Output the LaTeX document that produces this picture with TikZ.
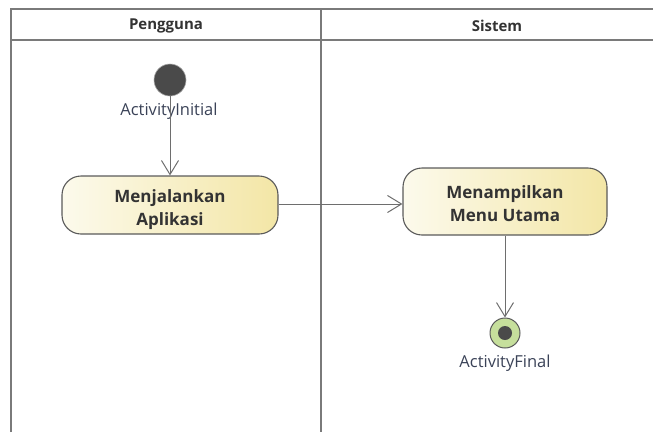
\documentclass[tikz,border=0pt]{standalone}
\usepackage{fontspec}
\setmainfont{Open Sans}
\usetikzlibrary{arrows.meta,shapes.geometric}
\definecolor{framegray}{HTML}{7A7A7A}
\definecolor{linegray}{HTML}{6E6E6E}
\definecolor{actborder}{HTML}{5A5A5A}
\definecolor{actleft}{HTML}{FCFAEC}
\definecolor{actright}{HTML}{F3E6A6}
\definecolor{initfill}{HTML}{4A4A4A}
\definecolor{finalfill}{HTML}{C6DF9C}
\definecolor{labelcol}{HTML}{3A4257}
\begin{document}
\begin{tikzpicture}[x=1pt,y=-1pt,
  lanetitle/.style={font=\bfseries\fontsize{15}{18}\selectfont, text=black!80},
  actbox/.style={draw=actborder, line width=1.1pt, rounded corners=19pt,
    left color=actleft, right color=actright, inner sep=0pt},
  acttext/.style={align=center, font=\bfseries\fontsize{17}{23}\selectfont, text=black!80},
  nodelabel/.style={font=\fontsize{16.5}{18}\selectfont, text=labelcol, inner sep=0pt},
  flow/.style={draw=linegray, line width=1pt, -{Straight Barb[length=14pt,width=17pt]}},
  frameline/.style={draw=framegray, line width=2pt}]
\useasboundingbox (0,0) rectangle (653,432);
% swimlane frame
\draw[frameline] (11,432) -- (11,9) -- (660,9);
\draw[frameline] (11,40) -- (660,40);
\draw[frameline] (321,9) -- (321,432);
\node[lanetitle] (lane1) at (166,25.5) {Pengguna};
\node[lanetitle] (lane2) at (497,25.5) {Sistem};
% initial node
\node[circle, fill=initfill, draw=gray!70, line width=0.6pt, minimum size=32pt, inner sep=0pt] (init) at (170,80) {};
\node[nodelabel] (initlabel) at (169,111.5) {ActivityInitial};
% actions
\node[actbox, minimum width=216pt, minimum height=58pt,
  label={[acttext, yshift=-5pt]center:Menjalankan\\Aplikasi}] (act1) at (170,205) {};
\node[actbox, minimum width=204pt, minimum height=67pt,
  label={[acttext, yshift=-2pt]center:Menampilkan\\Menu Utama}] (act2) at (505,201.5) {};
% final node
\node[circle, draw=actborder, line width=1pt, fill=finalfill, minimum size=30pt, inner sep=0pt] (final) at (505,333) {};
\node[circle, fill=initfill, minimum size=14pt, inner sep=0pt] (finaldot) at (final.center) {};
\node[nodelabel] (finallabel) at (505,363) {ActivityFinal};
% flows
\draw[flow] (init) -- (act1);
\draw[flow] (act1.east |- 0,204) -- (act2.west |- 0,204);
\draw[flow] (act2) -- (final);
\end{tikzpicture}
\end{document}
